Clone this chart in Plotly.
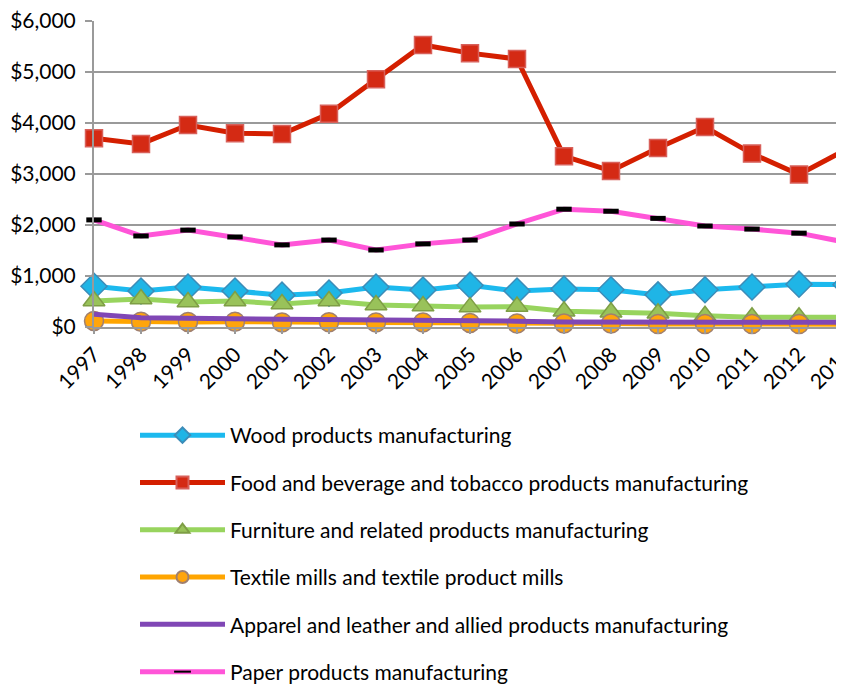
import plotly.graph_objects as go

years = list(range(1997, 2014))

wood = [800, 705, 785, 705, 625, 665, 785, 725, 820, 705, 745, 730, 630, 730, 785, 840, 830]
food = [3700, 3590, 3960, 3800, 3785, 4180, 4860, 5530, 5370, 5255, 3350, 3060, 3510, 3920, 3400, 2990, 3480]
furniture = [510, 550, 490, 510, 450, 510, 430, 410, 390, 400, 310, 290, 270, 220, 190, 190, 190]
textile = [120, 105, 100, 105, 90, 95, 90, 90, 80, 70, 70, 70, 60, 60, 60, 60, 55]
apparel = [250, 180, 170, 165, 145, 145, 130, 135, 125, 115, 100, 105, 100, 95, 95, 95, 95]
paper = [2100, 1785, 1900, 1765, 1610, 1705, 1510, 1630, 1705, 2020, 2310, 2270, 2130, 1980, 1920, 1840, 1660]

names = [
    "Wood products manufacturing",
    "Food and beverage and tobacco products manufacturing",
    "Furniture and related products manufacturing",
    "Textile mills and textile product mills",
    "Apparel and leather and allied products manufacturing",
    "Paper products manufacturing",
]

FONT = "Lato, 'Open Sans', sans-serif"

fig = go.Figure()

def add(y, name, lcolor, marker, group):
    fig.add_trace(go.Scatter(
        x=years, y=y, name=name, mode="lines+markers" if marker else "lines",
        line=dict(color=lcolor, width=5),
        marker=marker if marker else None,
        cliponaxis=False, legendgroup=group,
    ))

add(wood, names[0], "#1CB9EE",
    dict(symbol="diamond", size=20, color="#1FB5E6", line=dict(color="#3C8CB8", width=1.5)), "g1")
add(food, names[1], "#D41F00",
    dict(symbol="square", size=17, color="#D42A14", line=dict(color="#D8605A", width=1.5)), "g2")
add(furniture, names[2], "#98D45E",
    dict(symbol="triangle-up", size=19, color="#99C25A", line=dict(color="#7E9E45", width=1.5)), "g3")
add(textile, names[3], "#FFA500",
    dict(symbol="circle", size=19, color="#FFA50C", line=dict(color="#A08070", width=1.5)), "g4")
add(apparel, names[4], "#8047B5", None, "g5")
add(paper, names[5], "#FF55D8",
    dict(symbol="line-ew", size=11, color="black", line=dict(color="black", width=5)), "g6")

# page offset compensation (screen position = figure position + offset)
DX, DY = 6, 6
L, T, B, R = 92 - DX, 19 - DY, 325 - DY, 844 - DX
W, H = 844, 685
PW = R - L
PH = B - T
fig.update_layout(
    width=W, height=H,
    margin=dict(l=L, r=W - R, t=T, b=H - B, autoexpand=False),
    paper_bgcolor="white", plot_bgcolor="white",
    font=dict(family=FONT, size=21, color="black"),
    xaxis=dict(
        range=[1997, 2013], tickmode="array", tickvals=years, ticktext=[str(y) for y in years],
        tickangle=-45, showgrid=False, showline=True, linecolor="#9A9A9A", linewidth=2,
        ticks="outside", ticklen=5, tickcolor="#9A9A9A", tickwidth=1.5,
        tickfont=dict(size=21), zeroline=False, automargin=False,
        ticklabeloverflow="allow",
    ),
    yaxis=dict(
        range=[0, 6000], tickvals=[0, 1000, 2000, 3000, 4000, 5000, 6000],
        ticktext=["$0", "$1,000", "$2,000", "$3,000", "$4,000", "$5,000", "$6,000"],
        showgrid=True, gridcolor="#9A9A9A", gridwidth=2,
        showline=True, linecolor="#9A9A9A", linewidth=2,
        ticks="outside", ticklen=7, tickcolor="#9A9A9A", tickwidth=2,
        tickfont=dict(size=21), zeroline=False, automargin=False,
        ticklabeloverflow="allow", ticklabelstandoff=5,
    ),
    legend=dict(
        x=(127 - L) / PW, y=-(407 - B) / PH, xanchor="left", yanchor="top",
        font=dict(size=21), tracegroupgap=17, itemwidth=85,
        itemsizing="constant",
        bgcolor="rgba(0,0,0,0)",
    ),
    showlegend=True,
)

fig.write_html("out.html")
